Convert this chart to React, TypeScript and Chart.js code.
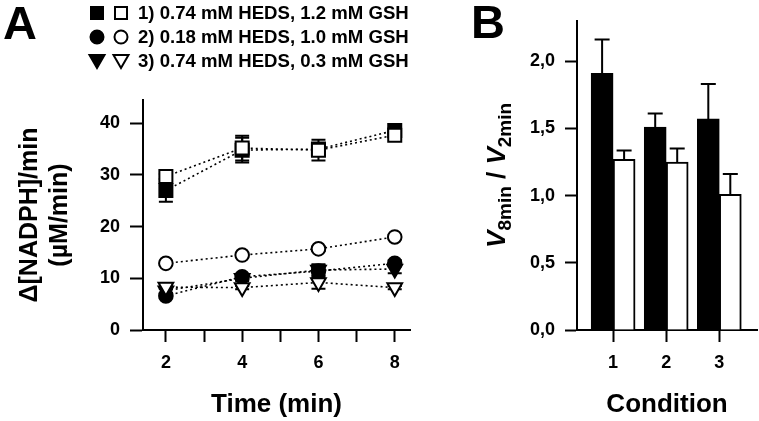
import { useEffect, useRef } from 'react';
import { Chart, registerables } from 'chart.js';

Chart.register(...registerables);

const FONT = '"Liberation Sans", Arial, Helvetica, sans-serif';

// ---------- Panel A data ----------
const timeMin = [2, 4, 6, 8];
const xTickValues = [2, 3, 4, 5, 6, 7, 8];
const yTickValuesA = [0, 10, 20, 30, 40];

const cond1Filled = [27.0, 34.8, 35.0, 38.6];
const cond1FilledErr = [2.2, 2.4, 1.0, 0.5];
const cond1Open = [29.7, 35.2, 34.8, 37.7];
const cond1OpenErr = [0.5, 2.4, 2.0, 0.5];

const cond2Filled = [6.6, 10.3, 11.4, 12.9];
const cond2FilledErr = [0.4, 0.6, 1.3, 0.6];
const cond2Open = [12.9, 14.5, 15.7, 18.0];
const cond2OpenErr = [0.3, 0.3, 0.4, 0.4];

const cond3Filled = [7.6, 10.0, 11.6, 11.8];
const cond3FilledErr = [0.4, 0.5, 1.0, 0.8];
const cond3Open = [8.3, 8.2, 9.2, 8.2];
const cond3OpenErr = [0.3, 0.3, 1.2, 0.3];

const legendLabels = [
  '1) 0.74 mM HEDS, 1.2 mM GSH',
  '2) 0.18 mM HEDS, 1.0 mM GSH',
  '3) 0.74 mM HEDS, 0.3 mM GSH',
];

// ---------- Panel B data ----------
const conditions = [1, 2, 3];
const yTickValuesB = [0, 0.5, 1.0, 1.5, 2.0];
const ratioFilled = [1.91, 1.51, 1.57];
const ratioFilledErr = [0.25, 0.10, 0.26];
const ratioOpen = [1.27, 1.25, 1.01];
const ratioOpenErr = [0.065, 0.10, 0.15];

const errorBarPlugin = {
  id: 'errorBars',
  beforeDatasetsDraw(chart: any) {
    const o = chart.options.plugins.errorBars || {};
    if (!o.before) return;
    drawErrors(chart, o);
  },
  afterDatasetsDraw(chart: any) {
    const o = chart.options.plugins.errorBars || {};
    if (o.before) return;
    drawErrors(chart, o);
  },
};

function drawErrors(chart: any, o: any) {
  const ctx = chart.ctx;
  const yScale = chart.scales.y;
  ctx.save();
  ctx.strokeStyle = '#000';
  ctx.lineWidth = o.lineWidth || 2;
  chart.data.datasets.forEach((ds: any, di: number) => {
    if (!ds.errors) return;
    const meta = chart.getDatasetMeta(di);
    meta.data.forEach((el: any, i: number) => {
      const err = ds.errors[i];
      if (!err) return;
      const raw = ds.data[i];
      const v = typeof raw === 'number' ? raw : raw.y;
      const x = el.x;
      const yTop = yScale.getPixelForValue(v + err);
      const yMid = yScale.getPixelForValue(v);
      const yBot = yScale.getPixelForValue(v - err);
      const cw = o.capHalf || 7;
      ctx.beginPath();
      ctx.moveTo(x, o.upOnly ? yMid : yBot);
      ctx.lineTo(x, yTop);
      ctx.moveTo(x - cw, yTop);
      ctx.lineTo(x + cw, yTop);
      if (!o.upOnly) {
        ctx.moveTo(x - cw, yBot);
        ctx.lineTo(x + cw, yBot);
      }
      ctx.stroke();
    });
  });
  ctx.restore();
}

function drawMarker(ctx: CanvasRenderingContext2D, kind: string, x: number, y: number, filled: boolean) {
  ctx.save();
  ctx.lineWidth = 2;
  ctx.strokeStyle = '#000';
  ctx.fillStyle = filled ? '#000' : '#fff';
  ctx.beginPath();
  if (kind === 'rect') {
    ctx.rect(x - 6, y - 6, 12, 12);
  } else if (kind === 'circle') {
    ctx.arc(x, y, 6.5, 0, Math.PI * 2);
  } else {
    ctx.moveTo(x - 7.5, y - 6);
    ctx.lineTo(x + 7.5, y - 6);
    ctx.lineTo(x, y + 7);
    ctx.closePath();
  }
  ctx.fill();
  ctx.stroke();
  ctx.restore();
}

const panelAPlugin = {
  id: 'panelADecor',
  afterDraw(chart: any) {
    const ctx = chart.ctx;
    ctx.save();
    ctx.fillStyle = '#000';
    ctx.font = `bold 47px ${FONT}`;
    ctx.textBaseline = 'alphabetic';
    ctx.textAlign = 'left';
    ctx.fillText('A', 3, 39);
    const kinds = ['rect', 'circle', 'tri'];
    const rows = [13, 37, 61];
    ctx.font = `bold 18.6px ${FONT}`;
    ctx.textBaseline = 'middle';
    legendLabels.forEach((lab, i) => {
      drawMarker(ctx, kinds[i], 97, rows[i], true);
      drawMarker(ctx, kinds[i], 121, rows[i], false);
      ctx.fillStyle = '#000';
      ctx.fillText(lab, 138, rows[i] + 1);
    });
    ctx.restore();
  },
};

const panelBPlugin = {
  id: 'panelBDecor',
  afterDraw(chart: any) {
    const ctx = chart.ctx;
    const area = chart.chartArea;
    ctx.save();
    ctx.fillStyle = '#000';
    ctx.font = `bold 47px ${FONT}`;
    ctx.textBaseline = 'alphabetic';
    ctx.textAlign = 'left';
    ctx.fillText('B', 11, 38);
    // rotated y title: V_8min / V_2min
    const big = `italic bold 26px ${FONT}`;
    const bigUp = `bold 26px ${FONT}`;
    const small = `bold 19px ${FONT}`;
    const parts = [
      { t: 'V', f: big, dy: 0 },
      { t: '8min', f: small, dy: 6 },
      { t: ' / ', f: bigUp, dy: 0 },
      { t: 'V', f: big, dy: 0 },
      { t: '2min', f: small, dy: 6 },
    ];
    let total = 0;
    parts.forEach((p) => {
      ctx.font = p.f;
      total += ctx.measureText(p.t).width;
    });
    const cy = (area.top + area.bottom) / 2;
    ctx.translate(45, cy);
    ctx.rotate(-Math.PI / 2);
    let x = -total / 2;
    parts.forEach((p) => {
      ctx.font = p.f;
      ctx.fillText(p.t, x, p.dy);
      x += ctx.measureText(p.t).width;
    });
    ctx.restore();
  },
};

const tickFont = { family: FONT, size: 18, weight: 'bold' as const };
const titleFont = { family: FONT, size: 26, weight: 'bold' as const };

function lineDs(label: string, vals: number[], errs: number[], style: string, filled: boolean, radius: number, rotation: number, order: number) {
  return {
    label,
    data: timeMin.map((t, i) => ({ x: t, y: vals[i] })),
    errors: errs,
    borderColor: '#000',
    borderWidth: 1.6,
    borderDash: [2, 3],
    pointStyle: style,
    pointRotation: rotation,
    pointRadius: radius,
    pointBorderWidth: 2,
    pointBackgroundColor: filled ? '#000' : '#fff',
    pointBorderColor: '#000',
    fill: false,
    tension: 0,
    order,
  };
}

export default function App() {
  const refA = useRef<HTMLCanvasElement>(null);
  const refB = useRef<HTMLCanvasElement>(null);

  useEffect(() => {
    const chartA = new Chart(refA.current as HTMLCanvasElement, {
      type: 'line',
      data: {
        datasets: [
          lineDs(legendLabels[0] + ' (filled)', cond1Filled, cond1FilledErr, 'rect', true, 9.2, 0, 6),
          lineDs(legendLabels[0] + ' (open)', cond1Open, cond1OpenErr, 'rect', false, 9.2, 0, 3),
          lineDs(legendLabels[1] + ' (filled)', cond2Filled, cond2FilledErr, 'circle', true, 6.8, 0, 5),
          lineDs(legendLabels[1] + ' (open)', cond2Open, cond2OpenErr, 'circle', false, 6.8, 0, 2),
          lineDs(legendLabels[2] + ' (filled)', cond3Filled, cond3FilledErr, 'triangle', true, 8.5, 180, 4),
          lineDs(legendLabels[2] + ' (open)', cond3Open, cond3OpenErr, 'triangle', false, 8.5, 180, 1),
        ] as any,
      },
      options: {
        animation: false,
        responsive: false,
        events: [],
        layout: { padding: { top: 100, right: 50, left: 0, bottom: 0 } },
        plugins: {
          legend: { display: false },
          tooltip: { enabled: false },
          errorBars: { before: true, capHalf: 7, lineWidth: 2 },
        } as any,
        scales: {
          x: {
            type: 'linear',
            min: 1.4,
            max: 8.4,
            afterBuildTicks: (s: any) => { s.ticks = xTickValues.map((v) => ({ value: v })); },
            afterFit: (s: any) => { s.height = 91; },
            ticks: {
              color: '#000',
              font: tickFont,
              padding: 10,
              maxRotation: 0,
              callback: (v: any) => (Number(v) % 2 === 0 ? String(v) : ''),
            },
            grid: { display: true, drawOnChartArea: false, drawTicks: true, tickLength: 12, tickWidth: 2, tickColor: '#000' },
            border: { display: true, color: '#000', width: 2 },
            title: { display: true, text: 'Time (min)', color: '#000', font: titleFont, padding: { top: 0, bottom: 1 } },
          },
          y: {
            type: 'linear',
            min: 0,
            max: 44.5,
            afterBuildTicks: (s: any) => { s.ticks = yTickValuesA.map((v) => ({ value: v })); },
            afterFit: (s: any) => { s.width = 143; },
            ticks: { color: '#000', font: tickFont, padding: 10 },
            grid: { display: true, drawOnChartArea: false, drawTicks: true, tickLength: 13, tickWidth: 2, tickColor: '#000' },
            border: { display: true, color: '#000', width: 2 },
            title: {
              display: true,
              text: ['Δ[NADPH]/min', '(µM/min)'],
              color: '#000',
              font: { family: FONT, size: 25, weight: 'bold' },
              padding: { top: 15, bottom: 0 },
            },
          },
        },
      } as any,
      plugins: [errorBarPlugin, panelAPlugin],
    });

    const chartB = new Chart(refB.current as HTMLCanvasElement, {
      type: 'bar',
      data: {
        datasets: [
          {
            label: '8 min / 2 min (filled)',
            data: conditions.map((c, i) => ({ x: c, y: ratioFilled[i] })),
            errors: ratioFilledErr,
            backgroundColor: '#000',
            borderColor: '#000',
            borderWidth: 2,
            barThickness: 22,
          },
          {
            label: '8 min / 2 min (open)',
            data: conditions.map((c, i) => ({ x: c, y: ratioOpen[i] })),
            errors: ratioOpenErr,
            backgroundColor: '#fff',
            borderColor: '#000',
            borderWidth: 2,
            barThickness: 22,
          },
        ] as any,
      },
      options: {
        animation: false,
        responsive: false,
        events: [],
        layout: { padding: { top: 15, right: 2, left: 0, bottom: 0 } },
        plugins: {
          legend: { display: false },
          tooltip: { enabled: false },
          errorBars: { before: false, upOnly: true, capHalf: 7.5, lineWidth: 2 },
        } as any,
        scales: {
          x: {
            type: 'linear',
            offset: false,
            min: 0.32,
            max: 3.71,
            afterBuildTicks: (s: any) => { s.ticks = conditions.map((v) => ({ value: v })); },
            afterFit: (s: any) => { s.height = 91; },
            ticks: { color: '#000', font: tickFont, padding: 10, maxRotation: 0 },
            grid: { display: true, offset: false, drawOnChartArea: false, drawTicks: true, tickLength: 12, tickWidth: 2, tickColor: '#000' },
            border: { display: true, color: '#000', width: 2 },
            title: { display: true, text: 'Condition', color: '#000', font: titleFont, padding: { top: 0, bottom: 1 } },
          },
          y: {
            type: 'linear',
            min: 0,
            max: 2.3,
            afterBuildTicks: (s: any) => { s.ticks = yTickValuesB.map((v) => ({ value: v })); },
            afterFit: (s: any) => { s.width = 117; },
            ticks: {
              color: '#000',
              font: tickFont,
              padding: 10,
              callback: (v: any) => Number(v).toFixed(1).replace('.', ','),
            },
            grid: { display: true, drawOnChartArea: false, drawTicks: true, tickLength: 12, tickWidth: 2, tickColor: '#000' },
            border: { display: true, color: '#000', width: 2 },
          },
        },
      } as any,
      plugins: [errorBarPlugin, panelBPlugin],
    });

    return () => {
      chartA.destroy();
      chartB.destroy();
    };
  }, []);

  return (
    <div style={{ position: 'absolute', left: 0, top: 0, width: 759, height: 421, background: '#fff' }}>
      <canvas ref={refA} width={460} height={421} style={{ position: 'absolute', left: 0, top: 0, width: 460, height: 421 }} />
      <canvas ref={refB} width={299} height={421} style={{ position: 'absolute', left: 460, top: 0, width: 299, height: 421 }} />
    </div>
  );
}
